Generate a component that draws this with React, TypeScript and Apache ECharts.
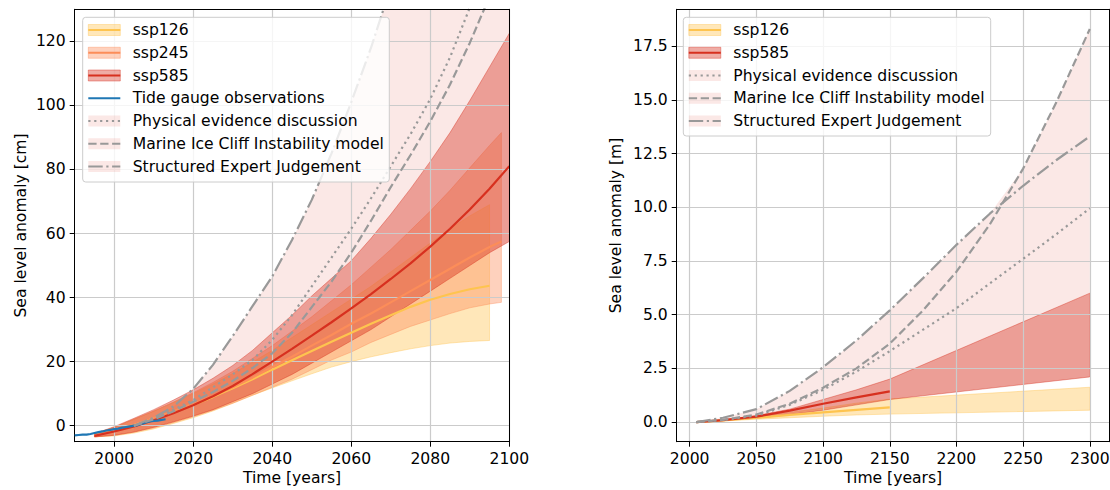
import React, { useEffect, useRef } from 'react';
import * as echarts from 'echarts';

// ---------------- Left panel (cm, to 2100) ----------------
const yearsL585 = [1995, 2000, 2005, 2010, 2015, 2020, 2025, 2030, 2035, 2040, 2045, 2050, 2055, 2060, 2065, 2070, 2075, 2080, 2085, 2090, 2095, 2100];
const ssp585L_med = [-3.2, -1.8, -0.2, 1.7, 3.9, 6.4, 9.2, 12.4, 16.1, 20, 24, 28.1, 32.3, 36.6, 41.1, 45.8, 50.7, 55.9, 61.5, 67.5, 74, 81];
const ssp585L_hi = [-2.5, -0.3, 2.3, 5, 8, 11.2, 14.8, 18.8, 23.5, 29, 34.5, 40.5, 46, 51.5, 58.5, 66, 74, 82.5, 91.5, 101.5, 112, 122.5];
const ssp585L_lo = [-3.5, -3, -2, -0.5, 1.2, 3, 5, 7.5, 10, 13, 16, 19.5, 23, 26.5, 30, 34, 38, 42, 46, 50, 54, 57.5];

const yearsL245 = [1995, 2000, 2005, 2010, 2015, 2020, 2025, 2030, 2035, 2040, 2045, 2050, 2055, 2060, 2065, 2070, 2075, 2080, 2085, 2090, 2095, 2098];
const ssp245L_med = [-3, -1.5, 0.2, 2.3, 4.5, 6.8, 9.3, 12, 15, 18.3, 21.5, 25, 28.3, 31.8, 35, 38.5, 42, 45.5, 49, 52.5, 55.8, 57.5];
const ssp245L_hi = [-2.5, -0.5, 2, 4.6, 7.4, 10.3, 13.5, 17, 21, 25, 29.5, 34, 39, 44, 49.5, 55, 61, 67, 73.5, 80.5, 87.5, 91.5];
const ssp245L_lo = [-3.5, -3, -2, -0.7, 1, 2.8, 4.8, 7, 9.5, 12, 14.5, 17.5, 20.5, 23, 26, 28.5, 31, 33, 35, 36.8, 38, 38.5];

const yearsL126 = [1995, 2000, 2005, 2010, 2015, 2020, 2025, 2030, 2035, 2040, 2045, 2050, 2055, 2060, 2065, 2070, 2075, 2080, 2085, 2090, 2095];
const ssp126L_med = [-3, -1.5, 0.2, 2.2, 4.3, 6.5, 9, 11.7, 14.5, 17.5, 20.4, 23.3, 26.2, 29, 31.8, 34.5, 37.1, 39.3, 41.1, 42.6, 43.7];
const ssp126L_hi = [-2.5, -0.5, 2, 4.5, 7.2, 10, 13, 16.3, 19.8, 23.5, 27.5, 31.5, 35.5, 39.5, 43.5, 48, 52.5, 57, 61.5, 65.5, 69];
const ssp126L_lo = [-3.5, -3.2, -2.3, -1, 0.7, 2.5, 4.6, 7, 9.5, 11.8, 14, 16.2, 18.3, 20, 21.5, 22.8, 24, 25, 25.8, 26.3, 26.6];

const tideYears = [1990, 1991, 1992, 1993, 1994, 1995, 1996, 1997, 1998, 1999, 2000, 2001, 2002, 2003, 2004, 2005, 2006, 2007, 2008, 2009, 2010, 2011, 2012, 2013];
const tideValues = [-3.0, -2.9, -2.8, -2.8, -2.6, -2.3, -2.0, -1.8, -1.5, -1.3, -1.1, -0.9, -0.6, -0.4, -0.2, 0.0, 0.2, 0.6, 1.0, 1.3, 1.5, 1.6, 1.8, 2.0];

const grayYearsL = [2005, 2010, 2015, 2020, 2025, 2030, 2035, 2040, 2045, 2050, 2055, 2060, 2065, 2070, 2075, 2080, 2085, 2090, 2095, 2100];
const pedL = [0, 2.2, 5, 8, 12, 16, 20.5, 26.8, 34.5, 43.5, 52.5, 61.5, 71, 81, 91, 102, 115, 130.5, 147, 165];
const miciL = [0, 2, 4.5, 7.5, 10.5, 14, 18, 22.6, 29, 37, 45, 54, 64, 74.5, 84.5, 95, 106.5, 119.5, 134, 150];
const sejL = [0, 2.5, 6, 11.5, 19, 28, 37.3, 46.6, 58, 70.5, 85, 101, 118, 137, 156, 176, 197, 219, 242, 266];

// ---------------- Right panel (m, to 2300) ----------------
const yearsRBand = [2005, 2025, 2050, 2075, 2100, 2125, 2150, 2300];
const yearsRMed = [2005, 2025, 2050, 2075, 2100, 2125, 2150];
const ssp585R_hi = [0, 0.1, 0.3, 0.6, 1.05, 1.5, 2.0, 6.0];
const ssp585R_lo = [0, 0.07, 0.18, 0.35, 0.55, 0.8, 1.05, 2.1];
const ssp585R_med = [0, 0.09, 0.25, 0.53, 0.85, 1.15, 1.43];
const ssp126R_hi = [0, 0.08, 0.25, 0.45, 0.65, 0.88, 1.07, 1.62];
const ssp126R_lo = [0, 0.05, 0.13, 0.2, 0.27, 0.33, 0.37, 0.55];
const ssp126R_med = [0, 0.08, 0.2, 0.33, 0.45, 0.57, 0.68];

const grayYearsR = [2005, 2025, 2050, 2075, 2100, 2125, 2150, 2175, 2200, 2225, 2250, 2275, 2300];
const pedR = [0, 0.1, 0.3, 0.8, 1.5, 2.35, 3.3, 4.3, 5.3, 6.45, 7.6, 8.75, 9.95];
const miciR = [0, 0.1, 0.35, 0.85, 1.6, 2.5, 3.65, 5.2, 7.0, 9.2, 11.8, 14.9, 18.3];
const sejR = [0, 0.2, 0.6, 1.45, 2.55, 3.8, 5.2, 6.7, 8.25, 9.7, 11.0, 12.2, 13.3];

// ---------------- Tick labels ----------------
const xTicksL = [2000, 2020, 2040, 2060, 2080, 2100];
const yTicksL = [0, 20, 40, 60, 80, 100, 120];
const xTicksR = [2000, 2050, 2100, 2150, 2200, 2250, 2300];
const yTicksR = [0, 2.5, 5, 7.5, 10, 12.5, 15, 17.5];

const legendLeft = ['ssp126', 'ssp245', 'ssp585', 'Tide gauge observations', 'Physical evidence discussion', 'Marine Ice Cliff Instability model', 'Structured Expert Judgement'];
const legendRight = ['ssp126', 'ssp585', 'Physical evidence discussion', 'Marine Ice Cliff Instability model', 'Structured Expert Judgement'];

// ---------------- Styles ----------------
const FONT = 'DejaVu Sans';
const FS = 15.6;
const C126 = '#fec44f';
const C245 = '#fc8d59';
const C585 = '#d7301f';
const CTIDE = '#1f77b4';
const CGRAY = '#999999';
const F126 = 'rgba(254,196,79,0.4)';
const F245 = 'rgba(252,141,89,0.4)';
const F585 = 'rgba(215,48,31,0.4)';
const FPINK = 'rgba(215,48,31,0.11)';
const DOT = [2.2, 3.7];
const DASH = [8.3, 3.6];
const DASHDOT = [14.4, 3.6, 2.2, 3.6];

const pairs = (xs: number[], ys: number[]) => xs.map((x, i) => [x, ys[i]]);

function band(ax: number, upX: number[], upY: number[], loX: number[], loY: number[], fill: string, stroke: string | null) {
  return {
    type: 'custom',
    xAxisIndex: ax,
    yAxisIndex: ax,
    z: 1,
    clip: true,
    silent: true,
    data: pairs(upX, upY),
    encode: { x: 0, y: 1 },
    renderItem: (params: any, api: any) => {
      if (params.dataIndex !== 0) return null;
      const top = upX.map((x, i) => api.coord([x, upY[i]]));
      const bot = loX.map((x, i) => api.coord([x, loY[i]])).reverse();
      return {
        type: 'polygon',
        shape: { points: top.concat(bot) },
        style: stroke ? { fill, stroke, lineWidth: 1 } : { fill, stroke: 'none' },
      };
    },
  };
}

function line(ax: number, xs: number[], ys: number[], color: string, dash: any, width = 2.2) {
  return {
    type: 'line',
    xAxisIndex: ax,
    yAxisIndex: ax,
    z: 3,
    data: pairs(xs, ys),
    showSymbol: false,
    symbol: 'none',
    silent: true,
    clip: true,
    lineStyle: { color, width, type: dash || 'solid', cap: 'butt' },
  };
}

const labelStyle = { fontSize: FS, color: '#000', fontFamily: FONT };

function mainX(grid: number, min: number, max: number, ticks: number[]) {
  return {
    type: 'value', gridIndex: grid, min, max, z: 2,
    name: 'Time [years]', nameLocation: 'middle', nameGap: 28.5, nameMoveOverlap: false,
    nameTextStyle: { ...labelStyle },
    axisLine: { show: true, onZero: false, lineStyle: { color: '#000', width: 1 } },
    axisTick: { show: true, length: 5, customValues: ticks, lineStyle: { color: '#000', width: 1 } },
    axisLabel: { show: true, customValues: ticks, margin: 9, ...labelStyle, formatter: (v: number) => String(v) },
    splitLine: { show: true, lineStyle: { color: '#cbcbcb', width: 1.2 } },
  };
}
function mainY(grid: number, min: number, max: number, ticks: number[], name: string, gap: number, fmt: (v: number) => string) {
  return {
    type: 'value', gridIndex: grid, min, max, z: 2,
    name, nameLocation: 'middle', nameGap: gap, nameMoveOverlap: false,
    nameTextStyle: { ...labelStyle },
    axisLine: { show: true, onZero: false, lineStyle: { color: '#000', width: 1 } },
    axisTick: { show: true, length: 5, customValues: ticks, lineStyle: { color: '#000', width: 1 } },
    axisLabel: { show: true, customValues: ticks, margin: 9, ...labelStyle, formatter: fmt },
    splitLine: { show: true, lineStyle: { color: '#cbcbcb', width: 1.2 } },
  };
}
function spine(grid: number, min: number, max: number, position: string) {
  return {
    type: 'value', gridIndex: grid, min, max, position, z: 5,
    axisLine: { show: true, onZero: false, lineStyle: { color: '#000', width: 1 } },
    axisTick: { show: false }, axisLabel: { show: false }, splitLine: { show: false },
  };
}

type Handle = { patch?: string; patchStroke?: string; color: string; dash?: number[] };

function legendGraphic(box: { x: number; y: number; w: number; h: number }, hx: number, tx: number, y0: number, dy: number, names: string[], handles: Handle[]) {
  const els: any[] = [
    {
      type: 'rect', z: 100,
      shape: { x: box.x, y: box.y, width: box.w, height: box.h, r: 3 },
      style: { fill: 'rgba(255,255,255,0.8)', stroke: '#cccccc', lineWidth: 1 },
    },
  ];
  names.forEach((name, i) => {
    const cy = y0 + i * dy;
    const h = handles[i];
    if (h.patch) {
      els.push({ type: 'rect', z: 101, shape: { x: hx, y: cy - 5.5, width: 32, height: 11 }, style: { fill: h.patch, stroke: h.patchStroke || 'none', lineWidth: 1 } });
    }
    els.push({ type: 'line', z: 102, shape: { x1: hx, y1: cy, x2: hx + 32, y2: cy }, style: { stroke: h.color, lineWidth: 2.2, lineDash: h.dash || null } });
    els.push({ type: 'text', z: 102, x: tx, y: cy, style: { text: name, fontSize: FS, fontFamily: FONT, fill: '#000', verticalAlign: 'middle', align: 'left' } });
  });
  return els;
}

const leftHandles: Handle[] = [
  { patch: F126, patchStroke: F126, color: C126 },
  { patch: F245, patchStroke: F245, color: C245 },
  { patch: F585, patchStroke: F585, color: C585 },
  { color: CTIDE },
  { patch: FPINK, color: CGRAY, dash: DOT },
  { patch: FPINK, color: CGRAY, dash: DASH },
  { patch: FPINK, color: CGRAY, dash: DASHDOT },
];
const rightHandles: Handle[] = [
  { patch: F126, patchStroke: F126, color: C126 },
  { patch: F585, patchStroke: F585, color: C585 },
  { patch: FPINK, color: CGRAY, dash: DOT },
  { patch: FPINK, color: CGRAY, dash: DASH },
  { patch: FPINK, color: CGRAY, dash: DASHDOT },
];

export default function App() {
  const ref = useRef<HTMLDivElement>(null);
  useEffect(() => {
    const chart = echarts.init(ref.current!, null, { renderer: 'svg' });

    const envR = grayYearsR.map((_, i) => Math.max(sejR[i], miciR[i], pedR[i]));
    const envL = grayYearsL.map((_, i) => Math.max(sejL[i], miciL[i], pedL[i]));
    const lo585Lx = yearsL585.filter((x) => x >= grayYearsL[0]);
    const lo585Ly = ssp585L_lo.filter((_, i) => yearsL585[i] >= grayYearsL[0]);

    const option: any = {
      animation: false,
      textStyle: { fontFamily: FONT },
      grid: [
        { left: 74.7, top: 9.3, width: 434.6, height: 432.4, outerBoundsMode: 'none', containLabel: false, show: false },
        { left: 676.7, top: 9.3, width: 432.8, height: 432.4, outerBoundsMode: 'none', containLabel: false, show: false },
      ],
      xAxis: [
        mainX(0, 1990, 2100, xTicksL),
        mainX(1, 1990.25, 2314.75, xTicksR),
        spine(0, 1990, 2100, 'top'),
        spine(1, 1990.25, 2314.75, 'top'),
      ],
      yAxis: [
        mainY(0, -5, 130, yTicksL, 'Sea level anomaly [cm]', 46, (v: number) => String(v)),
        mainY(1, -0.915, 19.215, yTicksR, 'Sea level anomaly [m]', 53, (v: number) => v.toFixed(1)),
        spine(0, -5, 130, 'right'),
        spine(1, -0.915, 19.215, 'right'),
      ],
      series: [
        // left bands
        band(0, grayYearsL, envL, lo585Lx, lo585Ly, FPINK, null),
        band(0, yearsL126, ssp126L_hi, yearsL126, ssp126L_lo, F126, F126),
        band(0, yearsL245, ssp245L_hi, yearsL245, ssp245L_lo, F245, F245),
        band(0, yearsL585, ssp585L_hi, yearsL585, ssp585L_lo, F585, F585),
        // left lines
        line(0, yearsL126, ssp126L_med, C126, null),
        line(0, yearsL245, ssp245L_med, C245, null),
        line(0, yearsL585, ssp585L_med, C585, null),
        line(0, tideYears, tideValues, CTIDE, null),
        line(0, grayYearsL, pedL, CGRAY, DOT),
        line(0, grayYearsL, miciL, CGRAY, DASH),
        line(0, grayYearsL, sejL, CGRAY, DASHDOT),
        // right bands
        band(1, grayYearsR, envR, yearsRBand, ssp585R_lo, FPINK, null),
        band(1, yearsRBand, ssp126R_hi, yearsRBand, ssp126R_lo, F126, F126),
        band(1, yearsRBand, ssp585R_hi, yearsRBand, ssp585R_lo, F585, F585),
        // right lines
        line(1, yearsRMed, ssp126R_med, C126, null),
        line(1, yearsRMed, ssp585R_med, C585, null),
        line(1, grayYearsR, pedR, CGRAY, DOT),
        line(1, grayYearsR, miciR, CGRAY, DASH),
        line(1, grayYearsR, sejR, CGRAY, DASHDOT),
      ],
      graphic: [
        ...legendGraphic({ x: 82.7, y: 17.3, w: 306.6, h: 164.7 }, 88.3, 132.7, 30, 22.75, legendLeft, leftHandles),
        ...legendGraphic({ x: 683.3, y: 17.3, w: 307.4, h: 118.7 }, 688.8, 733.3, 30, 22.75, legendRight, rightHandles),
      ],
    };
    chart.setOption(option);
    return () => chart.dispose();
  }, []);
  return <div ref={ref} style={{ position: 'absolute', left: 0, top: 0, width: 1110, height: 490 }} />;
}
